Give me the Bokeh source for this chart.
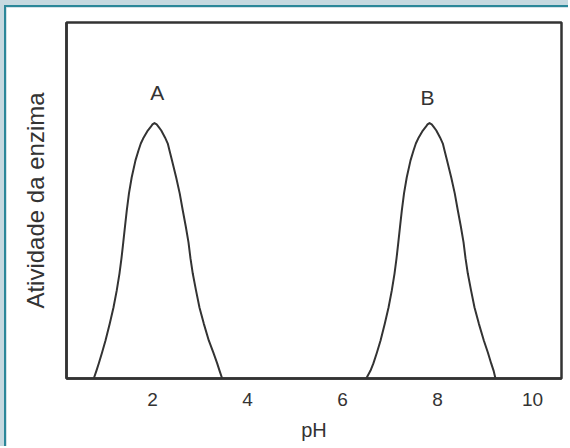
from bokeh.plotting import figure
from bokeh.models import FixedTicker, Range1d, Label
from bokeh.layouts import column
from bokeh.embed import file_html
from bokeh.resources import INLINE

# Enzyme activity vs pH: two enzymes with different optimum pH
ph_a = [0.764, 0.821, 0.869, 0.939, 1.011, 1.101, 1.179, 1.248, 1.305, 1.347, 1.385, 1.421,
        1.459, 1.505, 1.562, 1.642, 1.705, 1.754, 1.815, 1.901, 1.958, 2.000, 2.042,
        2.088, 2.133, 2.185, 2.263, 2.322, 2.358, 2.411, 2.499, 2.573, 2.638, 2.701,
        2.758, 2.800, 2.848, 2.916, 2.989, 3.080, 3.185, 3.280, 3.362, 3.411, 3.467]
act_a = [0.0, 0.031, 0.059, 0.102, 0.149, 0.215, 0.278, 0.345, 0.411, 0.470, 0.533, 0.595,
         0.658, 0.725, 0.787, 0.854, 0.893, 0.920, 0.944, 0.971, 0.984, 0.995, 1.0,
         0.995, 0.984, 0.971, 0.944, 0.920, 0.893, 0.854, 0.787, 0.725, 0.658, 0.595,
         0.533, 0.470, 0.411, 0.345, 0.278, 0.215, 0.149, 0.102, 0.059, 0.031, 0.0]

ph_b = [6.500, 6.590, 6.650, 6.725, 6.801, 6.891, 6.969, 7.038, 7.095, 7.137, 7.175, 7.211,
        7.249, 7.295, 7.352, 7.432, 7.495, 7.544, 7.605, 7.691, 7.748, 7.790, 7.832,
        7.878, 7.923, 7.975, 8.053, 8.112, 8.148, 8.201, 8.289, 8.363, 8.428, 8.491,
        8.548, 8.590, 8.638, 8.706, 8.779, 8.870, 8.975, 9.060, 9.130, 9.180, 9.220]
act_b = [0.0, 0.031, 0.059, 0.102, 0.149, 0.215, 0.278, 0.345, 0.411, 0.470, 0.533, 0.595,
         0.658, 0.725, 0.787, 0.854, 0.893, 0.920, 0.944, 0.971, 0.984, 0.995, 1.0,
         0.995, 0.984, 0.971, 0.944, 0.920, 0.893, 0.854, 0.787, 0.725, 0.658, 0.595,
         0.533, 0.470, 0.411, 0.345, 0.278, 0.215, 0.149, 0.102, 0.059, 0.031, 0.0]

ph_ticks = [2, 4, 6, 8, 10]
curve_names = ["A", "B"]
name_x = [2.10, 7.79]
name_y = [1.12, 1.10]

FONT = "Liberation Sans"
INK = "#333333"

p = figure(width=564, height=441,
           x_range=Range1d(0.19, 10.61), y_range=Range1d(0, 1.394),
           output_backend="svg", toolbar_location=None,
           min_border_left=60, min_border_right=9,
           min_border_top=15, min_border_bottom=70,
           background_fill_color="white", border_fill_color="white")

p.grid.visible = False
p.outline_line_color = INK
p.outline_line_width = 2.5

p.line(ph_a, act_a, line_color=INK, line_width=2, line_join="round")
p.line(ph_b, act_b, line_color=INK, line_width=2, line_join="round")

for name, nx, ny in zip(curve_names, name_x, name_y):
    p.add_layout(Label(x=nx, y=ny, text=name, text_align="center", text_baseline="middle",
                       text_font=FONT, text_font_size="21px", text_color=INK))

xa = p.xaxis[0]
xa.ticker = FixedTicker(ticks=ph_ticks)
xa.major_tick_line_color = None
xa.minor_tick_line_color = None
xa.axis_line_color = INK
xa.axis_line_width = 2.5
xa.major_label_standoff = 8
xa.major_label_text_font = FONT
xa.major_label_text_font_size = "19px"
xa.major_label_text_color = INK
xa.axis_label = "pH"
xa.axis_label_text_font = FONT
xa.axis_label_text_font_size = "20px"
xa.axis_label_text_font_style = "normal"
xa.axis_label_text_color = INK
xa.axis_label_standoff = 10

ya = p.yaxis[0]
ya.ticker = FixedTicker(ticks=[])
ya.major_tick_line_color = None
ya.minor_tick_line_color = None
ya.axis_line_color = INK
ya.axis_line_width = 2.5
ya.axis_label = "Atividade da enzima"
ya.axis_label_text_font = FONT
ya.axis_label_text_font_size = "24px"
ya.axis_label_text_font_style = "normal"
ya.axis_label_text_color = INK
ya.axis_label_standoff = 18

p.styles = {"border-left": "2px solid #2b8799", "border-top": "2px solid #2b8799"}

page = column(p, styles={"background-color": "#c6d9e0", "padding-left": "4px",
                         "padding-top": "5px"})

open("out.html", "w").write(file_html(page, INLINE))
